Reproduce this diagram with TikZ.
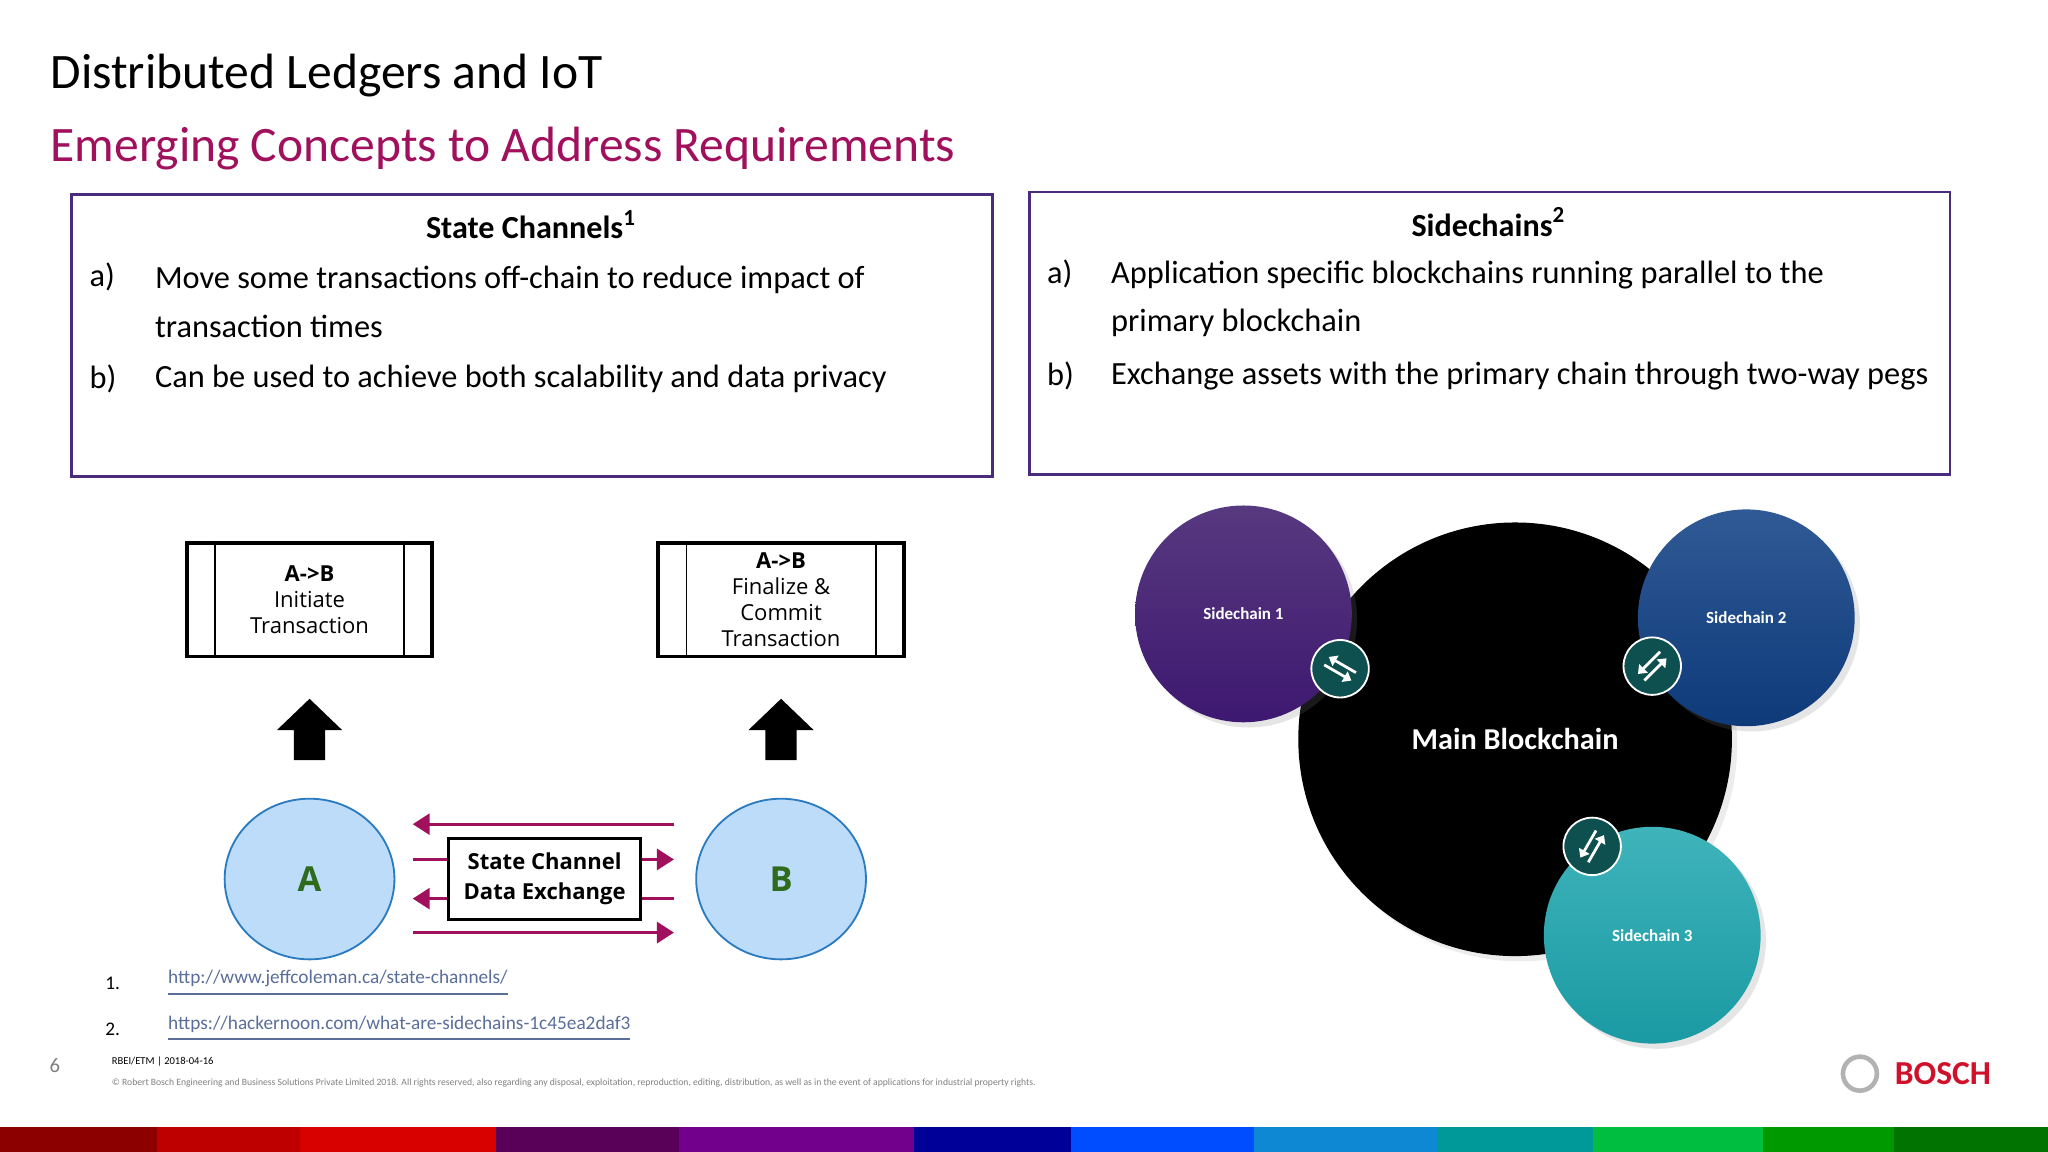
\documentclass[tikz,border=0pt]{standalone}
\usepackage{fontspec}
\setmainfont{Carlito}
\newfontfamily\sansdv{Open Sans}
\usetikzlibrary{arrows.meta,shadows,shapes.geometric}
\definecolor{boschred}{HTML}{D0112B}
\definecolor{magenta}{HTML}{A0105C}
\definecolor{boxline}{HTML}{4A2B7E}
\definecolor{lightblue}{HTML}{BDDCFA}
\definecolor{circblue}{HTML}{2A7BC0}
\definecolor{darkgreen}{HTML}{2E6B1C}
\definecolor{linkblue}{HTML}{5A6E9A}
\definecolor{pegteal}{HTML}{0E4F4F}
\definecolor{sideA}{HTML}{3E1870}
\definecolor{sideAtop}{HTML}{57397F}
\definecolor{sideB}{HTML}{0F3A7A}
\definecolor{sideBtop}{HTML}{2F5A95}
\definecolor{sideC}{HTML}{1A9AA3}
\definecolor{sideCtop}{HTML}{3FB3BA}

\begin{document}
\begin{tikzpicture}[x=0.1mm,y=-0.1mm]
\tikzset{
  infobox/.style={draw=boxline,line width=0.6pt},
  body/.style={anchor=west,inner sep=0pt,font=\fontsize{7.05}{8}\selectfont},
  tbox/.style={draw,line width=0.8pt,minimum width=18.8mm,minimum height=8.7mm,inner sep=0pt,align=center,font=\sansdv\fontsize{4.8}{5.7}\selectfont},
  party/.style={ellipse,draw=circblue,fill=lightblue,minimum width=13mm,minimum height=12.3mm,text=darkgreen,font=\sansdv\bfseries\fontsize{7.5}{9}\selectfont},
  flow/.style={magenta,line width=0.7pt,-{Triangle[length=1.3mm,width=1.6mm]}},
  chain/.style={circle,minimum size=16.6mm,text=white,drop shadow={opacity=0.2,shadow xshift=0.4mm,shadow yshift=-0.4mm},font=\bfseries\fontsize{3.7}{4.5}\selectfont},
  peg/.style={circle,fill=pegteal,draw=white,line width=0.4pt,minimum size=4.4mm,inner sep=0pt},
  pegarrow/.style={white,line width=0.6pt,-{Triangle[length=0.6mm,width=0.9mm]}},
  link/.style={text=linkblue,inner sep=0pt,font=\fontsize{4.2}{5}\selectfont,anchor=west}
}
\useasboundingbox (0,0) rectangle (1568,882);
\fill[white] (0,0) rectangle (1568,882);
% headings
\node[anchor=west,inner sep=0pt,font=\fontsize{10.8}{12}\selectfont] (title) at (38,58) {Distributed Ledgers and IoT};
\node[anchor=west,inner sep=0pt,text=magenta,font=\fontsize{10.8}{12}\selectfont] (subtitle) at (38,114) {Emerging Concepts to Address Requirements};
% text boxes
\draw[infobox] (55,149) rectangle (760,365);
\draw[infobox] (788,147) rectangle (1493,363);
\node[font=\bfseries\fontsize{7}{8}\selectfont] (sctitle) at (407,172) {State Channels\textsuperscript{1}};
\node[body] (sca) at (68,212) {a)};
\node[body,align=left] (scatext) at (118,231) {Move some transactions off-chain to reduce impact of\\[0.9mm]transaction times};
\node[body] (scb) at (68,290) {b)};
\node[body] (scbtext) at (118,290) {Can be used to achieve both scalability and data privacy};
\node[font=\bfseries\fontsize{7}{8}\selectfont] (sdtitle) at (1140,170) {Sidechains\textsuperscript{2}};
\node[body] (sda) at (801,210) {a)};
\node[body,align=left] (sdatext) at (850,229) {Application specific blockchains running parallel to the\\[0.9mm]primary blockchain};
\node[body] (sdb) at (801,288) {b)};
\node[body] (sdbtext) at (850,288) {Exchange assets with the primary chain through two-way pegs};
% state channel diagram
\node[tbox] (init) at (237,459) {\textbf{A->B}\\Initiate\\Transaction};
\draw (init.north west) ++(23,0) -- ++(0,87);
\draw (init.north east) ++(-23,0) -- ++(0,87);
\node[tbox] (commit) at (598,459) {\textbf{A->B}\\Finalize \&\\Commit\\Transaction};
\draw (commit.north west) ++(23,0) -- ++(0,87);
\draw (commit.north east) ++(-23,0) -- ++(0,87);
\foreach \x in {237,598}
  \fill (\x-12,582) -- (\x+12,582) -- (\x+12,559) -- (\x+25,559) -- (\x,535) -- (\x-25,559) -- (\x-12,559) -- cycle;
\node[party] (A) at (237,673) {A};
\node[party] (B) at (598,673) {B};
\coordinate (l1) at (316,631); \coordinate (r1) at (516,631);
\coordinate (l2) at (316,658); \coordinate (r2) at (516,658);
\coordinate (l3) at (316,688); \coordinate (r3) at (516,688);
\coordinate (l4) at (316,714); \coordinate (r4) at (516,714);
\draw[flow] (r1) -- (l1);
\draw[flow] (l2) -- (r2);
\draw[flow] (r3) -- (l3);
\draw[flow] (l4) -- (r4);
\node[draw,fill=white,line width=0.8pt,minimum width=14.7mm,minimum height=6.2mm,inner sep=0pt,align=center,font=\sansdv\bfseries\fontsize{4.8}{6.6}\selectfont] (exch) at (417,673) {State Channel\\Data Exchange};
% sidechains
\node[circle,fill=black,minimum size=33.2mm,drop shadow={opacity=0.15,shadow xshift=0.4mm,shadow yshift=-0.4mm},text=white,font=\bfseries\fontsize{6.6}{8}\selectfont] (main) at (1160,566) {Main Blockchain};
\node[chain,top color=sideAtop,bottom color=sideA] (side1) at (952,470) {Sidechain 1};
\node[chain,top color=sideBtop,bottom color=sideB] (side2) at (1337,473) {Sidechain 2};
\node[chain,top color=sideCtop,bottom color=sideC] (side3) at (1265,716) {Sidechain 3};
\foreach \px/\py/\ang in {1026/512/-30, 1265/510/45, 1219/648/60} {
  \node[peg] at (\px,\py) {};
  \begin{scope}[shift={(\px,\py)},rotate=\ang]
    \draw[pegarrow] (-12,3.5) -- (12,3.5);
    \draw[pegarrow] (12,-3.5) -- (-12,-3.5);
  \end{scope}
}
% footnotes
\node[anchor=west,inner sep=0pt,font=\fontsize{4.2}{5}\selectfont] (fn1) at (80,753) {1.};
\node[link] (url1) at (128,753) {\underline{http://www.jeffcoleman.ca/state-channels/}};
\node[anchor=west,inner sep=0pt,font=\fontsize{4.2}{5}\selectfont] (fn2) at (80,788) {2.};
\node[link] (url2) at (128,788) {\underline{https://hackernoon.com/what-are-sidechains-1c45ea2daf3}};
\node[text=gray,font=\fontsize{4.5}{5}\selectfont] (page) at (42,816) {6};
\node[anchor=west,inner sep=0pt,font=\fontsize{2.3}{3}\selectfont] (dept) at (85,813) {RBEI/ETM | 2018-04-16};
\node[anchor=west,inner sep=0pt,text=gray,font=\fontsize{2.1}{2.5}\selectfont] (copy) at (85,829) {© Robert Bosch Engineering and Business Solutions Private Limited 2018. All rights reserved, also regarding any disposal, exploitation, reproduction, editing, distribution, as well as in the event of applications for industrial property rights.};
% logo
\node[circle,draw=gray!60,line width=1pt,minimum size=2.6mm,inner sep=0pt] (logo) at (1424,822) {};
\node[anchor=west,inner sep=0pt,text=boschred,font=\bfseries\fontsize{7.3}{8}\selectfont] (bosch) at (1450,822) {BOSCH};
% colour band
\foreach \a/\b/\c in {0/120/red!55!black, 120/230/red!75!black, 230/380/red!85!black, 380/520/violet!70!black, 520/700/purple!60!blue, 700/820/blue!60!black, 820/960/blue!70!cyan, 960/1100/cyan!70!blue, 1100/1220/teal!80!cyan, 1220/1350/green!50!teal, 1350/1450/green!60!black, 1450/1568/green!45!black}
  \fill[\c] (\a,863) rectangle (\b,882);
\end{tikzpicture}
\end{document}
